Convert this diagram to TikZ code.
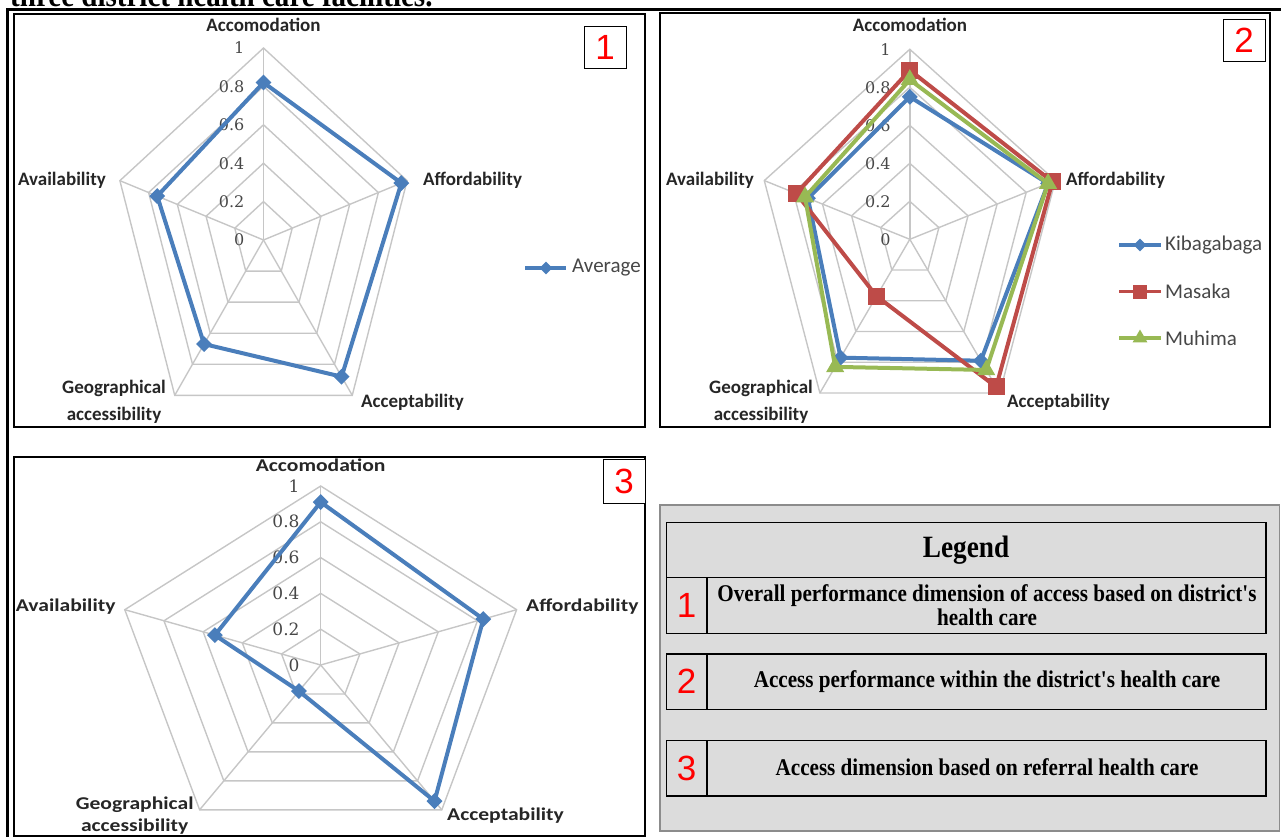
\documentclass[tikz,border=0pt]{standalone}
\usepackage{fontspec}
\setmainfont{Liberation Serif}
\newfontfamily\calib{Carlito}
\newfontfamily\calibwide{Carlito}[FakeStretch=1.2]
\newfontfamily\tickfont{DejaVu Serif}
\newfontfamily\arialfont{Liberation Sans}
\newfontfamily\legfont{Liberation Serif}[FakeStretch=0.88]
\usetikzlibrary{shapes.geometric}

\definecolor{chartblue}{HTML}{4A7EBB}
\definecolor{chartred}{HTML}{BE4B48}
\definecolor{chartgreen}{HTML}{98B954}
\definecolor{gridgray}{HTML}{C6C6C6}
\definecolor{legendgray}{HTML}{DCDCDC}

\tikzset{
  gridline/.style={draw=gridgray, line width=1.4pt},
  dataline/.style={line width=4pt, line join=round},
  axislabel/.style={font=\calib\bfseries\fontsize{19}{27}\selectfont, text=black!85, inner sep=0pt, align=center},
  axislabelwide/.style={font=\calibwide\bfseries\fontsize{18}{21.7}\selectfont, text=black!85, inner sep=0pt, align=center},
  ticklabel/.style={font=\tickfont\fontsize{16}{16}\selectfont, text=black!72, anchor=east, inner sep=0pt},
  seriesname/.style={font=\calib\fontsize{21}{21}\selectfont, text=black!72, anchor=west, inner sep=0pt},
  panelframe/.style={draw=black, line width=2pt},
  numberbox/.style={draw=black, line width=0.8pt, fill=white, text=red, font=\arialfont\fontsize{35}{35}\selectfont, minimum width=42pt, minimum height=42pt, inner sep=0pt},
  diamondmark/.style={diamond, fill=chartblue, inner sep=0pt, minimum size=16pt},
  squaremark/.style={rectangle, fill=chartred, inner sep=0pt, minimum size=17pt},
  trianglemark/.style={regular polygon, regular polygon sides=3, fill=chartgreen, inner sep=0pt, minimum size=21pt},
  legendrow/.style={draw=black, line width=1.3pt},
  legendnum/.style={text=red, font=\arialfont\fontsize{35}{35}\selectfont, inner sep=0pt},
  legendtext/.style={font=\legfont\bfseries\fontsize{24}{23.4}\selectfont, align=center, inner sep=0pt},
}

\begin{document}
\begin{tikzpicture}[x=1pt,y=-1pt]
    \useasboundingbox (0,0) rectangle (1281,837);
    % caption line cut by the top edge
    \node[anchor=base west, font=\legfont\bfseries\fontsize{33}{33}\selectfont, inner sep=0pt] (caption) at (10,6.5) {three district health care facilities.};
    \draw[line width=3pt] (7.5,840) -- (7.5,9.3) -- (1285,9.3);

    % chart 1
    \begin{scope}[shift={(263.5,240)}, x=151pt, y=192pt]
        \foreach \r in {0.2,0.4,0.6,0.8,1}
            \draw[gridline] (90:\r) -- (18:\r) -- (-54:\r) -- (-126:\r) -- (162:\r) -- cycle;
        \foreach \a in {90,18,-54,-126,162}
            \draw[gridline] (0,0) -- (\a:1);
        \foreach \v [count=\i] in {0,0.2,0.4,0.6,0.8,1}
            \node[ticklabel, xshift=-19pt] (tickA\i) at (0,\v) {\v};
        \coordinate (avgAcc) at (90:0.82);
        \coordinate (avgAff) at (18:0.96);
        \coordinate (avgAcp) at (-54:0.88);
        \coordinate (avgGeo) at (-126:0.67);
        \coordinate (avgAva) at (162:0.74);
        \draw[dataline, chartblue] (avgAcc) -- (avgAff) -- (avgAcp) -- (avgGeo) -- (avgAva) -- cycle;
        \foreach \p in {avgAcc,avgAff,avgAcp,avgGeo,avgAva}
            \node[diamondmark] (\p-m) at (\p) {};
    \end{scope}
    \node[axislabel] (accA) at (263.5,25) {Accomodation};
    \node[axislabel, anchor=west] (affA) at (423,180) {Affordability};
    \node[axislabel, anchor=west] (acpA) at (361,402) {Acceptability};
    \node[axislabel] (geoA) at (114,401.5) {Geographical\\accessibility};
    \node[axislabel, anchor=east] (avaA) at (106,180) {Availability};
    \coordinate (avgKeyL) at (525,268);
    \coordinate (avgKeyR) at (566,268);
    \draw[line width=3.4pt, chartblue] (avgKeyL) -- (avgKeyR);
    \node[diamondmark, minimum size=13pt] (avgKeyM) at (546,268) {};
    \node[seriesname] (avgKey) at (572,268) {Average};
    \draw[panelframe] (13.7,14) rectangle (645,427);
    \node[numberbox] (boxA) at (605,47.5) {1};

    % chart 2
    \begin{scope}[shift={(909.8,239.3)}, x=153pt, y=190pt]
        \foreach \r in {0.2,0.4,0.6,0.8,1}
            \draw[gridline] (90:\r) -- (18:\r) -- (-54:\r) -- (-126:\r) -- (162:\r) -- cycle;
        \foreach \a in {90,18,-54,-126,162}
            \draw[gridline] (0,0) -- (\a:1);
        \foreach \v [count=\i] in {0,0.2,0.4,0.6,0.8,1}
            \node[ticklabel, xshift=-19pt] (tickB\i) at (0,\v) {\v};
        \coordinate (kibAcc) at (90:0.75);
        \coordinate (kibAff) at (18:0.95);
        \coordinate (kibAcp) at (-54:0.79);
        \coordinate (kibGeo) at (-126:0.77);
        \coordinate (kibAva) at (162:0.70);
        \coordinate (masAcc) at (90:0.89);
        \coordinate (masAff) at (18:0.98);
        \coordinate (masAcp) at (-54:0.96);
        \coordinate (masGeo) at (-126:0.37);
        \coordinate (masAva) at (162:0.78);
        \coordinate (muhAcc) at (90:0.84);
        \coordinate (muhAff) at (18:0.95);
        \coordinate (muhAcp) at (-54:0.85);
        \coordinate (muhGeo) at (-126:0.83);
        \coordinate (muhAva) at (162:0.72);
        \draw[dataline, chartblue] (kibAcc) -- (kibAff) -- (kibAcp) -- (kibGeo) -- (kibAva) -- cycle;
        \foreach \p in {kibAcc,kibAff,kibAcp,kibGeo,kibAva}
            \node[diamondmark] (\p-m) at (\p) {};
        \draw[dataline, chartred] (masAcc) -- (masAff) -- (masAcp) -- (masGeo) -- (masAva) -- cycle;
        \foreach \p in {masAcc,masAff,masAcp,masGeo,masAva}
            \node[squaremark] (\p-m) at (\p) {};
        \draw[dataline, chartgreen] (muhAcc) -- (muhAff) -- (muhAcp) -- (muhGeo) -- (muhAva) -- cycle;
        \foreach \p in {muhAcc,muhAff,muhAcp,muhGeo,muhAva}
            \node[trianglemark] (\p-m) at (\p) {};
    \end{scope}
    \node[axislabel] (accB) at (910,25) {Accomodation};
    \node[axislabel, anchor=west] (affB) at (1066,180) {Affordability};
    \node[axislabel, anchor=west] (acpB) at (1007,402) {Acceptability};
    \node[axislabel] (geoB) at (761,401.5) {Geographical\\accessibility};
    \node[axislabel, anchor=east] (avaB) at (754,180) {Availability};
    \coordinate (kibKeyL) at (1119,245);
    \coordinate (kibKeyR) at (1161,245);
    \draw[line width=3.4pt, chartblue] (kibKeyL) -- (kibKeyR);
    \node[diamondmark, minimum size=13pt] (kibKeyM) at (1140,245) {};
    \node[seriesname] (kibKey) at (1165,245) {Kibagabaga};
    \coordinate (masKeyL) at (1119,291.7);
    \coordinate (masKeyR) at (1161,291.7);
    \draw[line width=3.4pt, chartred] (masKeyL) -- (masKeyR);
    \node[squaremark, minimum size=14pt] (masKeyM) at (1140,291.7) {};
    \node[seriesname] (masKey) at (1165,291.7) {Masaka};
    \coordinate (muhKeyL) at (1119,338);
    \coordinate (muhKeyR) at (1161,338);
    \draw[line width=3.4pt, chartgreen] (muhKeyL) -- (muhKeyR);
    \node[trianglemark, minimum size=17pt] (muhKeyM) at (1140,338) {};
    \node[seriesname] (muhKey) at (1165,338) {Muhima};
    \draw[panelframe] (660.3,13.5) rectangle (1270,427);
    \node[numberbox] (boxB) at (1244,40.2) {2};

    % chart 3
    \begin{scope}[shift={(320.7,665)}, x=206pt, y=179pt]
        \foreach \r in {0.2,0.4,0.6,0.8,1}
            \draw[gridline] (90:\r) -- (18:\r) -- (-54:\r) -- (-126:\r) -- (162:\r) -- cycle;
        \foreach \a in {90,18,-54,-126,162}
            \draw[gridline] (0,0) -- (\a:1);
        \foreach \v [count=\i] in {0,0.2,0.4,0.6,0.8,1}
            \node[ticklabel, xshift=-21pt, font=\tickfont\fontsize{17}{17}\selectfont] (tickC\i) at (0,\v) {\v};
        \coordinate (refAcc) at (90:0.91);
        \coordinate (refAff) at (18:0.83);
        \coordinate (refAcp) at (-54:0.94);
        \coordinate (refGeo) at (-126:0.18);
        \coordinate (refAva) at (162:0.54);
        \draw[dataline, chartblue] (refAcc) -- (refAff) -- (refAcp) -- (refGeo) -- (refAva) -- cycle;
        \foreach \p in {refAcc,refAff,refAcp,refGeo,refAva}
            \node[diamondmark] (\p-m) at (\p) {};
    \end{scope}
    \node[axislabelwide] (accC) at (320.7,465) {Accomodation};
    \node[axislabelwide, anchor=west] (affC) at (526,606.7) {Affordability};
    \node[axislabelwide, anchor=west] (acpC) at (447,816) {Acceptability};
    \node[axislabelwide] (geoC) at (134.7,815.8) {Geographical\\accessibility};
    \node[axislabelwide, anchor=east] (avaC) at (115.7,606.7) {Availability};
    \draw[panelframe] (13.7,457.3) rectangle (644.7,836);
    \node[numberbox, minimum height=44pt] (boxC) at (624,481) {3};

    % legend
    \draw[draw=black!45, line width=1.3pt, fill=legendgray] (660,505) rectangle (1279.5,831);
    \draw[legendrow] (666.2,522.3) rectangle (1266,577.3);
    \node[font=\legfont\bfseries\fontsize{31}{31}\selectfont, inner sep=0pt] (legTitle) at (966,550) {Legend};
    \draw[legendrow] (666.2,577.3) rectangle (1266,633.3);
    \draw[legendrow] (707,577.3) -- (707,633.3);
    \node[legendnum] (legNumA) at (686.5,605) {1};
    \node[legendtext] (legTextA) at (987,605) {Overall performance dimension of access based on district's\\health care};
    \draw[legendrow] (666.2,654) rectangle (1266,709.3);
    \draw[legendrow] (707,654) -- (707,709.3);
    \node[legendnum] (legNumB) at (686.5,681.7) {2};
    \node[legendtext] (legTextB) at (987,681.7) {Access performance within the district's health care};
    \draw[legendrow] (666.2,740.7) rectangle (1266,796);
    \draw[legendrow] (707,740.7) -- (707,796);
    \node[legendnum] (legNumC) at (686.5,768.3) {3};
    \node[legendtext] (legTextC) at (987,767.3) {Access dimension based on referral health care};
\end{tikzpicture}
\end{document}
